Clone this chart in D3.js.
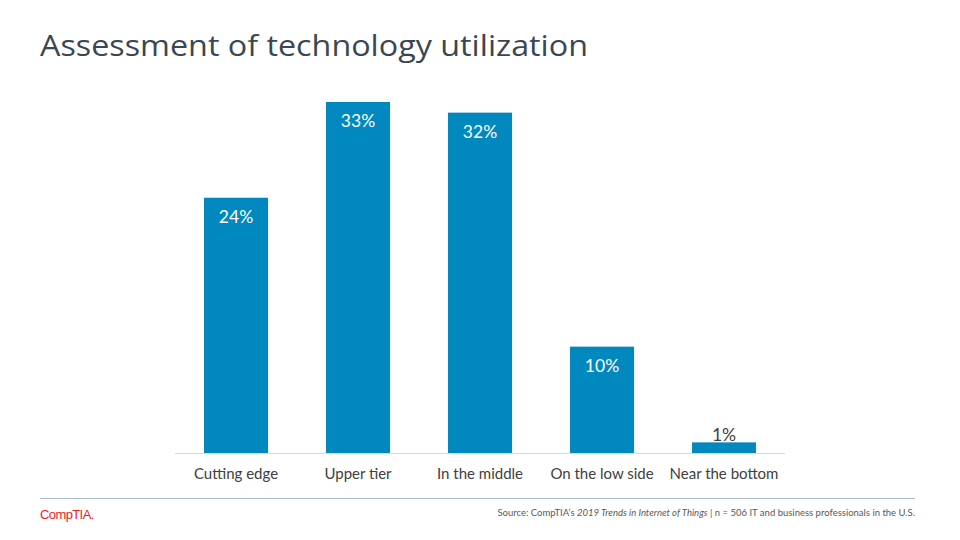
<!DOCTYPE html>
<html><head><meta charset="utf-8">
<script src="https://cdn.jsdelivr.net/npm/d3@7"></script>
<style>body{margin:0;background:#fff}svg{display:block}</style>
</head><body>
<svg id="c" width="960" height="540"></svg>
<script>
const categories = ["Cutting edge","Upper tier","In the middle","On the low side","Near the bottom"];
const values = [24,33,32,10,1];
const valueLabels = ["24%","33%","32%","10%","1%"];

const svg = d3.select("#c");
const font = "Lato, 'Open Sans', sans-serif";
svg.append("text").attr("x",40).attr("y",56).attr("font-family","'Open Sans', sans-serif")
  .attr("font-size",30).attr("fill","#3a4752").attr("textLength",548).attr("lengthAdjust","spacingAndGlyphs")
  .text("Assessment of technology utilization");

const x = d3.scaleBand().domain(categories).range([175,785]).paddingInner(0.475).paddingOuter(0.2375);
const y = d3.scaleLinear().domain([0,33]).range([453,102]);

svg.append("line").attr("x1",175).attr("x2",785).attr("y1",453.5).attr("y2",453.5)
  .attr("stroke","#d9d9d9").attr("stroke-width",1);

svg.selectAll("rect.bar").data(values).join("rect").attr("class","bar")
  .attr("x",(d,i)=>x(categories[i])).attr("width",x.bandwidth())
  .attr("y",d=>y(d)).attr("height",d=>y(0)-y(d)).attr("fill","#0088bf");

svg.selectAll("text.val").data(values).join("text").attr("class","val")
  .attr("x",(d,i)=>x(categories[i])+x.bandwidth()/2)
  .attr("y",d=> (y(0)-y(d))>40 ? y(d)+25 : y(d)-1)
  .attr("text-anchor","middle").attr("font-family",font).attr("font-size",17.5)
  .attr("fill",d=> (y(0)-y(d))>40 ? "#ffffff" : "#404040")
  .text((d,i)=>valueLabels[i]);

const xAxis = svg.append("g").attr("transform","translate(0,453)")
  .call(d3.axisBottom(x).tickSize(0).tickPadding(15));
xAxis.select(".domain").remove();
xAxis.selectAll("text").attr("font-family",font).attr("font-size",15).attr("fill","#404040");

svg.append("line").attr("x1",40).attr("x2",915).attr("y1",498.5).attr("y2",498.5)
  .attr("stroke","#a9bccb").attr("stroke-width",1);
svg.append("text").attr("x",40).attr("y",519).attr("font-family","'Liberation Sans', Arial, sans-serif")
  .attr("font-size",13).attr("fill","#e8202a").attr("letter-spacing",-0.6).text("CompTIA.");

const src = svg.append("text").attr("x",915).attr("y",516).attr("text-anchor","end")
  .attr("font-family",font).attr("font-size",9.5).attr("fill","#595959");
src.append("tspan").text("Source: CompTIA\u2019s ");
src.append("tspan").attr("font-style","italic").text("2019 Trends in Internet of Things");
src.append("tspan").text(" | n = 506 IT and business professionals in the U.S.");
</script>
</body></html>
